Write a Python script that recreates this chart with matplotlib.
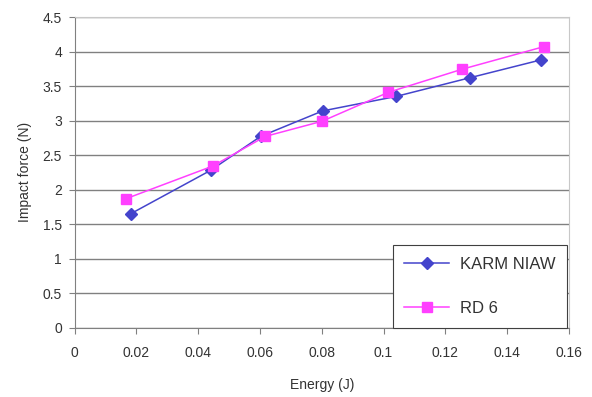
import numpy as np
import matplotlib
matplotlib.use("Agg")
import matplotlib.pyplot as plt

energy_karm = [0.0182, 0.0441, 0.0602, 0.0803, 0.1041, 0.1279, 0.1510]
force_karm = [1.65, 2.28, 2.77, 3.14, 3.35, 3.62, 3.88]
energy_rd6 = [0.0168, 0.0447, 0.0617, 0.0801, 0.1016, 0.1255, 0.1518]
force_rd6 = [1.87, 2.34, 2.77, 2.99, 3.41, 3.745, 4.07]

xticks = [0, 0.02, 0.04, 0.06, 0.08, 0.1, 0.12, 0.14, 0.16]
xticklabels = ['0', '0.02', '0.04', '0.06', '0.08', '0.1', '0.12', '0.14', '0.16']
yticks = [0, 0.5, 1, 1.5, 2, 2.5, 3, 3.5, 4, 4.5]
yticklabels = ['0', '0.5', '1', '1.5', '2', '2.5', '3', '3.5', '4', '4.5']

plt.rcParams['font.family'] = ['Liberation Sans', 'DejaVu Sans']
txt = '#333333'

fig = plt.figure(figsize=(5.92, 3.97), dpi=100)
ax = fig.add_axes([0.126, 0.175, 0.835, 0.782])

ax.plot(energy_karm, force_karm, color='#4444cc', lw=1.1, marker='D', ms=6,
        label='KARM NIAW', zorder=3)
ax.plot(energy_rd6, force_rd6, color='#ff40ff', lw=1.1, marker='s', ms=7,
        label='RD 6', zorder=3)

ax.set_xlim(0, 0.16)
ax.set_ylim(0, 4.5)
ax.set_xticks(xticks)
ax.set_xticklabels(xticklabels)
ax.set_yticks(yticks)
ax.set_yticklabels(yticklabels)
ax.tick_params(axis='both', direction='out', length=4, color='#808080',
               labelsize=10, labelcolor=txt, pad=5)
ax.tick_params(axis='x', pad=9)

ax.yaxis.grid(True, color='#808080', lw=1)
ax.set_axisbelow(True)
ax.spines['left'].set_color('#808080')
ax.spines['bottom'].set_color('#808080')
ax.spines['top'].set_color('#c8c8c8')
ax.spines['right'].set_color('#c8c8c8')

ax.set_xlabel('Energy (J)', fontsize=10, color=txt, labelpad=13)
ax.set_ylabel('Impact force (N)', fontsize=10, color=txt, labelpad=8)

leg = ax.legend(loc='lower right', bbox_to_anchor=(0.997, 0.0), fontsize=12,
                fancybox=False, framealpha=1, edgecolor='#404040',
                borderpad=0.7, labelspacing=1.75, handlelength=2.7,
                handletextpad=0.65, borderaxespad=0)
leg.get_frame().set_linewidth(0.8)
for t in leg.get_texts():
    t.set_color(txt)

fig.savefig('out.png', dpi=100)
